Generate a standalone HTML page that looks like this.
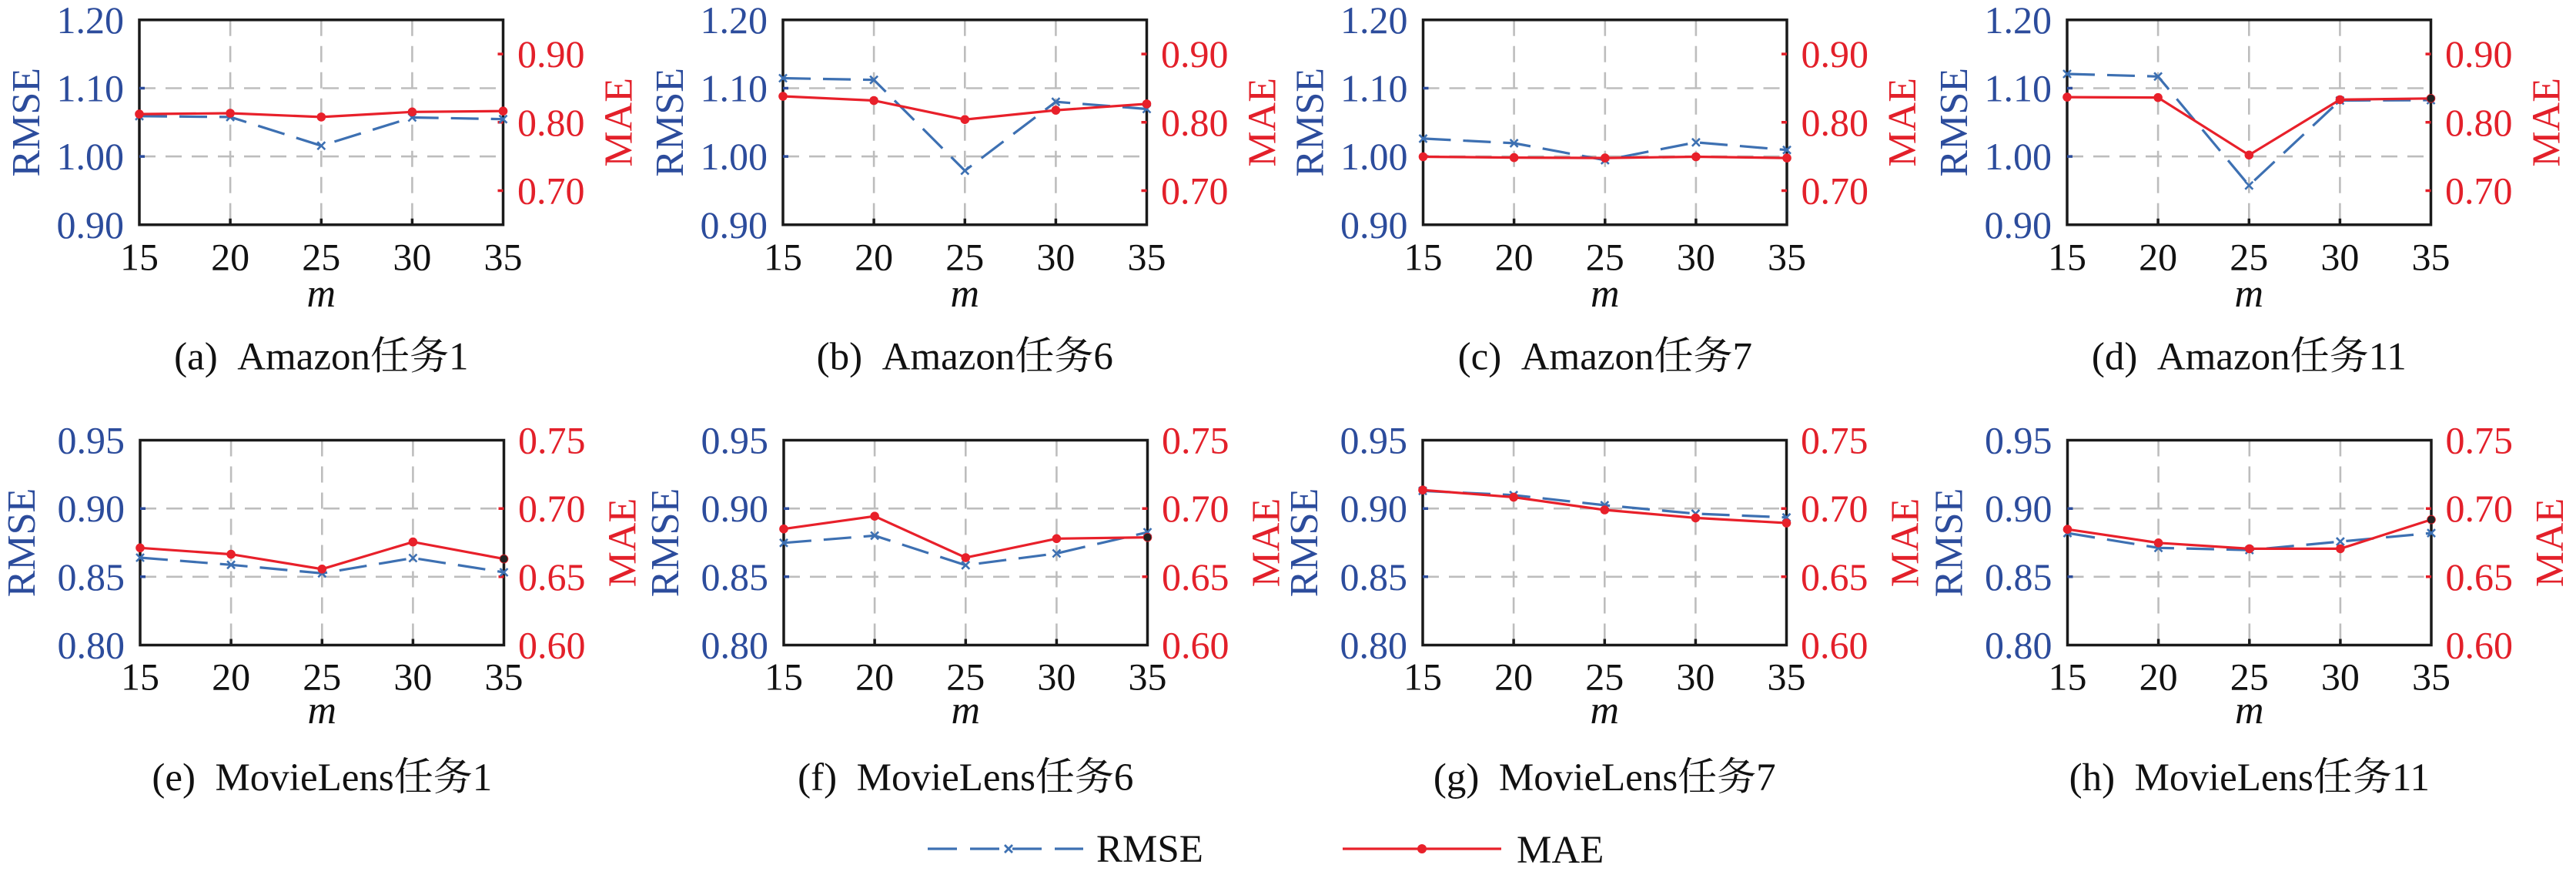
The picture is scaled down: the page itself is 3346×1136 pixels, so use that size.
<!DOCTYPE html>
<html><head><meta charset="utf-8"><style>
html,body{margin:0;padding:0;background:#fff;}
svg{display:block;font-family:"Liberation Serif","Noto Serif CJK SC",serif;}
.grid{fill:none;stroke:#bdbdbd;stroke-width:2.6;stroke-dasharray:21 13;}
.box{fill:none;stroke:#1a1a1a;stroke-width:3.5;}
.tb{stroke:#2c4c9c;stroke-width:3.5;fill:none;}
.tr{stroke:#e3202a;stroke-width:3.5;fill:none;}
.tk{stroke:#1a1a1a;stroke-width:3.5;fill:none;}
.rm{fill:none;stroke:#3d70b2;stroke-width:3.2;stroke-dasharray:36 16;marker-start:url(#mx);marker-mid:url(#mx);marker-end:url(#mx);}
.ma{fill:none;stroke:#e8202a;stroke-width:3.2;marker-start:url(#mo);marker-mid:url(#mo);marker-end:url(#mo);}
.yl{font-size:50px;fill:#2c4c9c;text-anchor:end;}
.yr{font-size:50px;fill:#e3202a;text-anchor:start;}
.xt{font-size:50px;fill:#111;text-anchor:middle;}
.lr{font-size:52px;fill:#2c4c9c;text-anchor:middle;}
.lm{font-size:52px;fill:#e3202a;text-anchor:middle;}
.mm{font-size:52px;font-style:italic;fill:#111;text-anchor:middle;}
.cap{font-size:51px;fill:#111;text-anchor:middle;}
.lg{font-size:51px;fill:#111;}
</style></head><body>
<svg width="3346" height="1136" viewBox="0 0 3346 1136" xmlns="http://www.w3.org/2000/svg">
<defs>
<marker id="mx" markerWidth="16" markerHeight="16" refX="8" refY="8" markerUnits="userSpaceOnUse"><path d="M3 3L13 13M13 3L3 13" stroke="#3d70b2" stroke-width="2.6" fill="none"/></marker>
<marker id="mo" markerWidth="16" markerHeight="16" refX="8" refY="8" markerUnits="userSpaceOnUse"><circle cx="8" cy="8" r="5.8" fill="#e8202a"/></marker>
</defs>
<rect x="0" y="0" width="3346" height="1136" fill="#fff"/>

<!-- Panel a -->
<g transform="translate(181,25.8)">
<path class="grid" d="M118.1 0V266M236.3 0V266M354.4 0V266M0 88.7H472.5M0 177.3H472.5"/>
<rect class="box" x="0" y="0" width="472.5" height="266"/>
<path class="tb" d="M0 88.7h7M0 177.3h7"/>
<path class="tr" d="M472.5 44.3h-7M472.5 133h-7M472.5 221.7h-7"/>
<path class="tk" d="M118.1 266v-8M236.3 266v-8M354.4 266v-8"/>
<polyline class="rm" points="0,125 118.1,126.1 236.3,163.4 354.4,126.7 472.5,128.9"/>
<polyline class="ma" points="0,122.3 118.1,121.2 236.3,126.1 354.4,119.5 472.5,118.4"/>
<text class="yl" x="-20" y="17">1.20</text><text class="yl" x="-20" y="105.7">1.10</text><text class="yl" x="-20" y="194.3">1.00</text><text class="yl" x="-20" y="283">0.90</text>
<text class="yr" x="491" y="61.3">0.90</text><text class="yr" x="491" y="150">0.80</text><text class="yr" x="491" y="238.7">0.70</text>
<text class="xt" x="0" y="324.7">15</text><text class="xt" x="118.1" y="324.7">20</text><text class="xt" x="236.3" y="324.7">25</text><text class="xt" x="354.4" y="324.7">30</text><text class="xt" x="472.5" y="324.7">35</text>
<text class="mm" x="236.3" y="372">m</text>
<text class="lr" transform="translate(-130,133) rotate(-90)">RMSE</text>
<text class="lm" transform="translate(639.5,133) rotate(-90)">MAE</text>
<text class="cap" x="236.3" y="453.5">(a)&#160;&#160;Amazon任务1</text>
</g>

<!-- Panel b -->
<g transform="translate(1017,25.8)">
<path class="grid" d="M118.1 0V266M236.3 0V266M354.4 0V266M0 88.7H472.5M0 177.3H472.5"/>
<rect class="box" x="0" y="0" width="472.5" height="266"/>
<path class="tb" d="M0 88.7h7M0 177.3h7"/>
<path class="tr" d="M472.5 44.3h-7M472.5 133h-7M472.5 221.7h-7"/>
<path class="tk" d="M118.1 266v-8M236.3 266v-8M354.4 266v-8"/>
<polyline class="rm" points="0,75.7 118.1,77.9 236.3,195.8 354.4,106.4 472.5,115.7"/>
<polyline class="ma" points="0,99.2 118.1,104.7 236.3,129.4 354.4,117.3 472.5,109.1"/>
<text class="yl" x="-20" y="17">1.20</text><text class="yl" x="-20" y="105.7">1.10</text><text class="yl" x="-20" y="194.3">1.00</text><text class="yl" x="-20" y="283">0.90</text>
<text class="yr" x="491" y="61.3">0.90</text><text class="yr" x="491" y="150">0.80</text><text class="yr" x="491" y="238.7">0.70</text>
<text class="xt" x="0" y="324.7">15</text><text class="xt" x="118.1" y="324.7">20</text><text class="xt" x="236.3" y="324.7">25</text><text class="xt" x="354.4" y="324.7">30</text><text class="xt" x="472.5" y="324.7">35</text>
<text class="mm" x="236.3" y="372">m</text>
<text class="lr" transform="translate(-130,133) rotate(-90)">RMSE</text>
<text class="lm" transform="translate(639.5,133) rotate(-90)">MAE</text>
<text class="cap" x="236.3" y="453.5">(b)&#160;&#160;Amazon任务6</text>
</g>

<!-- Panel c -->
<g transform="translate(1848.5,25.8)">
<path class="grid" d="M118.1 0V266M236.3 0V266M354.4 0V266M0 88.7H472.5M0 177.3H472.5"/>
<rect class="box" x="0" y="0" width="472.5" height="266"/>
<path class="tb" d="M0 88.7h7M0 177.3h7"/>
<path class="tr" d="M472.5 44.3h-7M472.5 133h-7M472.5 221.7h-7"/>
<path class="tk" d="M118.1 266v-8M236.3 266v-8M354.4 266v-8"/>
<polyline class="rm" points="0,154.1 118.1,160.1 236.3,182.1 354.4,159 472.5,168.9"/>
<polyline class="ma" points="0,177.7 118.1,178.8 236.3,179.3 354.4,177.7 472.5,179.3"/>
<text class="yl" x="-20" y="17">1.20</text><text class="yl" x="-20" y="105.7">1.10</text><text class="yl" x="-20" y="194.3">1.00</text><text class="yl" x="-20" y="283">0.90</text>
<text class="yr" x="491" y="61.3">0.90</text><text class="yr" x="491" y="150">0.80</text><text class="yr" x="491" y="238.7">0.70</text>
<text class="xt" x="0" y="324.7">15</text><text class="xt" x="118.1" y="324.7">20</text><text class="xt" x="236.3" y="324.7">25</text><text class="xt" x="354.4" y="324.7">30</text><text class="xt" x="472.5" y="324.7">35</text>
<text class="mm" x="236.3" y="372">m</text>
<text class="lr" transform="translate(-130,133) rotate(-90)">RMSE</text>
<text class="lm" transform="translate(639.5,133) rotate(-90)">MAE</text>
<text class="cap" x="236.3" y="453.5">(c)&#160;&#160;Amazon任务7</text>
</g>

<!-- Panel d -->
<g transform="translate(2685,25.8)">
<path class="grid" d="M118.1 0V266M236.3 0V266M354.4 0V266M0 88.7H472.5M0 177.3H472.5"/>
<rect class="box" x="0" y="0" width="472.5" height="266"/>
<path class="tb" d="M0 88.7h7M0 177.3h7"/>
<path class="tr" d="M472.5 44.3h-7M472.5 133h-7M472.5 221.7h-7"/>
<path class="tk" d="M118.1 266v-8M236.3 266v-8M354.4 266v-8"/>
<polyline class="rm" points="0,70.2 118.1,73.5 236.3,215 354.4,104.7 472.5,104.2"/>
<polyline class="ma" points="0,100.3 118.1,100.9 236.3,175.5 354.4,103.6 472.5,102"/>
<circle cx="472.5" cy="102" r="5" fill="#222"/>
<text class="yl" x="-20" y="17">1.20</text><text class="yl" x="-20" y="105.7">1.10</text><text class="yl" x="-20" y="194.3">1.00</text><text class="yl" x="-20" y="283">0.90</text>
<text class="yr" x="491" y="61.3">0.90</text><text class="yr" x="491" y="150">0.80</text><text class="yr" x="491" y="238.7">0.70</text>
<text class="xt" x="0" y="324.7">15</text><text class="xt" x="118.1" y="324.7">20</text><text class="xt" x="236.3" y="324.7">25</text><text class="xt" x="354.4" y="324.7">30</text><text class="xt" x="472.5" y="324.7">35</text>
<text class="mm" x="236.3" y="372">m</text>
<text class="lr" transform="translate(-130,133) rotate(-90)">RMSE</text>
<text class="lm" transform="translate(639.5,133) rotate(-90)">MAE</text>
<text class="cap" x="236.3" y="453.5">(d)&#160;&#160;Amazon任务11</text>
</g>

<!-- Panel e -->
<g transform="translate(182,571.5)">
<path class="grid" d="M118.1 0V266M236.3 0V266M354.4 0V266M0 88.7H472.5M0 177.3H472.5"/>
<rect class="box" x="0" y="0" width="472.5" height="266"/>
<path class="tb" d="M0 88.7h7M0 177.3h7"/>
<path class="tr" d="M472.5 88.7h-7M472.5 177.3h-7"/>
<path class="tk" d="M118.1 266v-8M236.3 266v-8M354.4 266v-8"/>
<polyline class="rm" points="0,152.5 118.1,161.8 236.3,172.8 354.4,153 472.5,171.5"/>
<polyline class="ma" points="0,139.8 118.1,148.1 236.3,167.3 354.4,132.1 472.5,154.1"/>
<circle cx="472.5" cy="154.1" r="5" fill="#222"/>
<text class="yl" x="-20" y="17">0.95</text><text class="yl" x="-20" y="105.7">0.90</text><text class="yl" x="-20" y="194.3">0.85</text><text class="yl" x="-20" y="283">0.80</text>
<text class="yr" x="491" y="17">0.75</text><text class="yr" x="491" y="105.7">0.70</text><text class="yr" x="491" y="194.3">0.65</text><text class="yr" x="491" y="283">0.60</text>
<text class="xt" x="0" y="324">15</text><text class="xt" x="118.1" y="324">20</text><text class="xt" x="236.3" y="324">25</text><text class="xt" x="354.4" y="324">30</text><text class="xt" x="472.5" y="324">35</text>
<text class="mm" x="236.3" y="367.5">m</text>
<text class="lr" transform="translate(-137,133) rotate(-90)">RMSE</text>
<text class="lm" transform="translate(643.5,133) rotate(-90)">MAE</text>
<text class="cap" x="236.3" y="454.5">(e)&#160;&#160;MovieLens任务1</text>
</g>

<!-- Panel f -->
<g transform="translate(1018,571.5)">
<path class="grid" d="M118.1 0V266M236.3 0V266M354.4 0V266M0 88.7H472.5M0 177.3H472.5"/>
<rect class="box" x="0" y="0" width="472.5" height="266"/>
<path class="tb" d="M0 88.7h7M0 177.3h7"/>
<path class="tr" d="M472.5 88.7h-7M472.5 177.3h-7"/>
<path class="tk" d="M118.1 266v-8M236.3 266v-8M354.4 266v-8"/>
<polyline class="rm" points="0,133.3 118.1,123.9 236.3,162.3 354.4,147 472.5,119.5"/>
<polyline class="ma" points="0,115.2 118.1,98.7 236.3,152.5 354.4,127.8 472.5,126.1"/>
<circle cx="472.5" cy="126.1" r="5" fill="#222"/>
<text class="yl" x="-20" y="17">0.95</text><text class="yl" x="-20" y="105.7">0.90</text><text class="yl" x="-20" y="194.3">0.85</text><text class="yl" x="-20" y="283">0.80</text>
<text class="yr" x="491" y="17">0.75</text><text class="yr" x="491" y="105.7">0.70</text><text class="yr" x="491" y="194.3">0.65</text><text class="yr" x="491" y="283">0.60</text>
<text class="xt" x="0" y="324">15</text><text class="xt" x="118.1" y="324">20</text><text class="xt" x="236.3" y="324">25</text><text class="xt" x="354.4" y="324">30</text><text class="xt" x="472.5" y="324">35</text>
<text class="mm" x="236.3" y="367.5">m</text>
<text class="lr" transform="translate(-137,133) rotate(-90)">RMSE</text>
<text class="lm" transform="translate(643.5,133) rotate(-90)">MAE</text>
<text class="cap" x="236.3" y="454.5">(f)&#160;&#160;MovieLens任务6</text>
</g>

<!-- Panel g -->
<g transform="translate(1848,571.5)">
<path class="grid" d="M118.1 0V266M236.3 0V266M354.4 0V266M0 88.7H472.5M0 177.3H472.5"/>
<rect class="box" x="0" y="0" width="472.5" height="266"/>
<path class="tb" d="M0 88.7h7M0 177.3h7"/>
<path class="tr" d="M472.5 88.7h-7M472.5 177.3h-7"/>
<path class="tk" d="M118.1 266v-8M236.3 266v-8M354.4 266v-8"/>
<polyline class="rm" points="0,65.8 118.1,71.3 236.3,84.4 354.4,95.4 472.5,100.3"/>
<polyline class="ma" points="0,64.7 118.1,74 236.3,90.5 354.4,100.9 472.5,107.5"/>
<text class="yl" x="-20" y="17">0.95</text><text class="yl" x="-20" y="105.7">0.90</text><text class="yl" x="-20" y="194.3">0.85</text><text class="yl" x="-20" y="283">0.80</text>
<text class="yr" x="491" y="17">0.75</text><text class="yr" x="491" y="105.7">0.70</text><text class="yr" x="491" y="194.3">0.65</text><text class="yr" x="491" y="283">0.60</text>
<text class="xt" x="0" y="324">15</text><text class="xt" x="118.1" y="324">20</text><text class="xt" x="236.3" y="324">25</text><text class="xt" x="354.4" y="324">30</text><text class="xt" x="472.5" y="324">35</text>
<text class="mm" x="236.3" y="367.5">m</text>
<text class="lr" transform="translate(-137,133) rotate(-90)">RMSE</text>
<text class="lm" transform="translate(643.5,133) rotate(-90)">MAE</text>
<text class="cap" x="236.3" y="454.5">(g)&#160;&#160;MovieLens任务7</text>
</g>

<!-- Panel h -->
<g transform="translate(2685.5,571.5)">
<path class="grid" d="M118.1 0V266M236.3 0V266M354.4 0V266M0 88.7H472.5M0 177.3H472.5"/>
<rect class="box" x="0" y="0" width="472.5" height="266"/>
<path class="tb" d="M0 88.7h7M0 177.3h7"/>
<path class="tr" d="M472.5 88.7h-7M472.5 177.3h-7"/>
<path class="tk" d="M118.1 266v-8M236.3 266v-8M354.4 266v-8"/>
<polyline class="rm" points="0,120.6 118.1,139.8 236.3,142.6 354.4,131.6 472.5,120.6"/>
<polyline class="ma" points="0,115.7 118.1,133.3 236.3,140.9 354.4,140.9 472.5,103.1"/>
<circle cx="472.5" cy="103.1" r="5" fill="#222"/>
<text class="yl" x="-20" y="17">0.95</text><text class="yl" x="-20" y="105.7">0.90</text><text class="yl" x="-20" y="194.3">0.85</text><text class="yl" x="-20" y="283">0.80</text>
<text class="yr" x="491" y="17">0.75</text><text class="yr" x="491" y="105.7">0.70</text><text class="yr" x="491" y="194.3">0.65</text><text class="yr" x="491" y="283">0.60</text>
<text class="xt" x="0" y="324">15</text><text class="xt" x="118.1" y="324">20</text><text class="xt" x="236.3" y="324">25</text><text class="xt" x="354.4" y="324">30</text><text class="xt" x="472.5" y="324">35</text>
<text class="mm" x="236.3" y="367.5">m</text>
<text class="lr" transform="translate(-137,133) rotate(-90)">RMSE</text>
<text class="lm" transform="translate(643.5,133) rotate(-90)">MAE</text>
<text class="cap" x="236.3" y="454.5">(h)&#160;&#160;MovieLens任务11</text>
</g>

<!-- Legend -->
<line x1="1205" y1="1102" x2="1407" y2="1102" stroke="#3d70b2" stroke-width="3.2" stroke-dasharray="38 17"/>
<path d="M1305 1097L1315 1107M1315 1097L1305 1107" stroke="#3d70b2" stroke-width="2.8" fill="none"/>
<text class="lg" x="1424" y="1119">RMSE</text>
<line x1="1744" y1="1102" x2="1950" y2="1102" stroke="#e8202a" stroke-width="3.2"/>
<circle cx="1847" cy="1102" r="6" fill="#e8202a"/>
<text class="lg" x="1970" y="1120">MAE</text>
</svg>
</body></html>
